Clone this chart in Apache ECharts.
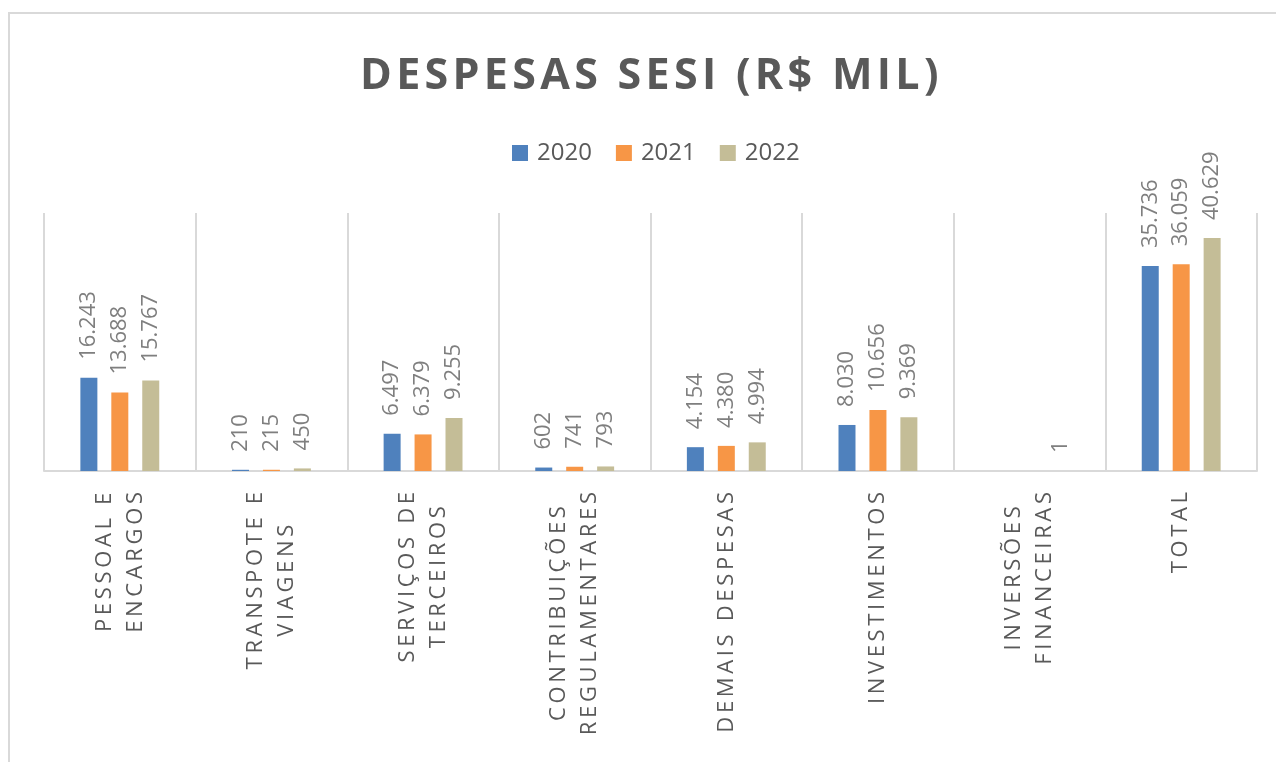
<!DOCTYPE html>
<html>
<head>
<meta charset="utf-8">
<script src="https://cdn.jsdelivr.net/npm/echarts@6/dist/echarts.min.js"></script>
<style>
  html, body { margin: 0; padding: 0; background: #fff; }
  #chart { width: 1276px; height: 762px; }
</style>
</head>
<body>
<div id="chart"></div>
<script>
// categorias e valores (R$ mil)
const categories = [
  'PESSOAL E\nENCARGOS',
  'TRANSPOTE E\nVIAGENS',
  'SERVIÇOS DE\nTERCEIROS',
  'CONTRIBUIÇÕES\nREGULAMENTARES',
  'DEMAIS DESPESAS',
  'INVESTIMENTOS',
  'INVERSÕES\nFINANCEIRAS',
  'TOTAL'
];
const years = ['2020', '2021', '2022'];
const values2020 = [16243, 210, 6497, 602, 4154, 8030, null, 35736];
const values2021 = [13688, 215, 6379, 741, 4380, 10656, null, 36059];
const values2022 = [15767, 450, 9255, 793, 4994, 9369, 1, 40629];
const colors = ['#4F81BD', '#F79646', '#C4BD97'];

const FONT = 'Open Sans';
const spaced = (s, sp) => s.split('').join(sp);
const fmt = (v) => String(v).replace(/\B(?=(\d{3})+(?!\d))/g, '.');

function series() {
    const data = [values2020, values2021, values2022];
    return years.map((y, i) => ({
        name: y,
        type: 'bar',
        data: data[i],
        barWidth: 17,
        barGap: '82%',
        itemStyle: { color: colors[i] },
        label: {
            show: true,
            position: 'top',
            rotate: 90,
            align: 'left',
            verticalAlign: 'middle',
            distance: 18,
            fontFamily: FONT,
            fontSize: 22,
            color: '#7f7f7f',
            formatter: (p) => fmt(p.value)
        }
    }));
}

const option = {
    animation: false,
    title: {
        text: spaced('DESPESAS SESI (R$ MIL)', '\u200A'),
        left: 360,
        top: 55,
        padding: 0,
        textStyle: {
            fontFamily: FONT,
            fontSize: 43,
            fontWeight: 'bold',
            color: '#595959'
        }
    },
    legend: {
        data: years,
        left: 512,
        top: 141,
        padding: 0,
        icon: 'rect',
        itemWidth: 16,
        itemHeight: 16,
        itemGap: 24,
        textStyle: {
            fontFamily: FONT,
            fontSize: 24,
            color: '#595959',
            padding: [0, 0, 0, 4]
        }
    },
    grid: {
        left: 44,
        right: 19,
        top: 213,
        bottom: 291
    },
    xAxis: {
        type: 'category',
        data: categories,
        axisTick: { show: false },
        axisLine: { lineStyle: { color: '#d9d9d9', width: 2 } },
        splitLine: {
            show: true,
            interval: 0,
            lineStyle: { color: '#d9d9d9', width: 2 }
        },
        axisLabel: {
            interval: 0,
            rotate: 90,
            margin: 21,
            formatter: (v) => v.split('\n').map(l => '{c|' + spaced(l, '\u2009') + '}').join('\n'),
            rich: {
                c: {
                    align: 'center',
                    fontFamily: FONT,
                    fontSize: 22,
                    lineHeight: 31,
                    color: '#595959'
                }
            }
        }
    },
    yAxis: {
        type: 'value',
        min: 0,
        max: 45000,
        show: false,
        splitLine: { show: false }
    },
    graphic: [{
        type: 'rect',
        silent: true,
        shape: { x: 9, y: 13, width: 1400, height: 900 },
        style: { fill: 'none', stroke: '#d9d9d9', lineWidth: 2 }
    }],
    series: series()
};

const myChart = echarts.init(document.getElementById('chart'));
option && myChart.setOption(option);
window.addEventListener('resize', () => {
    myChart.resize();
});
</script>
</body>
</html>
